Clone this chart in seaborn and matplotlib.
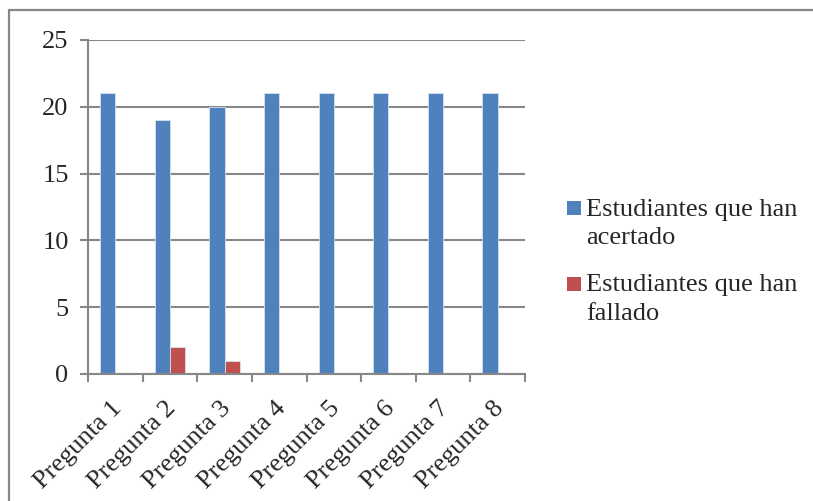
import matplotlib
matplotlib.use("Agg")
import matplotlib.pyplot as plt
from matplotlib.legend_handler import HandlerPatch
from matplotlib.patches import Rectangle
from matplotlib.lines import Line2D
from matplotlib.transforms import ScaledTranslation
import pandas as pd
import seaborn as sns

preguntas = ["Pregunta 1", "Pregunta 2", "Pregunta 3", "Pregunta 4",
             "Pregunta 5", "Pregunta 6", "Pregunta 7", "Pregunta 8"]
acertado = [21, 19, 20, 21, 21, 21, 21, 21]
fallado = [0, 2, 1, 0, 0, 0, 0, 0]
series = ["Estudiantes que han\nacertado", "Estudiantes que han\nfallado"]
colores = ["#4F81BD", "#C0504D"]
y_ticks = [0, 5, 10, 15, 20, 25]

df = pd.DataFrame({
    "pregunta": preguntas * 2,
    "valor": acertado + fallado,
    "serie": [series[0]] * len(preguntas) + [series[1]] * len(preguntas),
})

sns.set_theme(style="white")
plt.rcParams["font.family"] = ["Liberation Serif", "DejaVu Serif"]

GRAY = "#878787"
FS = 19

fig = plt.figure(figsize=(8.13, 5.01), dpi=100)
ax = fig.add_axes([88 / 813, 1 - 374 / 501, (525 - 88) / 813, (374 - 40) / 501])

sns.barplot(data=df, x="pregunta", y="valor", hue="serie", order=preguntas,
            hue_order=series, palette=colores, saturation=1, width=0.56, gap=0,
            edgecolor="#d8e2ef", linewidth=0.6, legend=False, ax=ax)

ax.set_ylim(0, 25)
ax.set_xlim(-0.5, len(preguntas) - 0.5)
ax.set_yticks(y_ticks)
ax.set_yticklabels([str(v) for v in y_ticks], fontsize=FS)
ax.set_xlabel("")
ax.set_ylabel("")
ax.yaxis.grid(True, color=GRAY, linewidth=1.5)
ax.set_axisbelow(True)
for s in ["top", "right"]:
    ax.spines[s].set_visible(False)
for s in ["left", "bottom"]:
    ax.spines[s].set_color(GRAY)
    ax.spines[s].set_linewidth(1.5)

ax.tick_params(axis="y", which="major", direction="out", length=6, width=1.5,
               color=GRAY, pad=8, left=True)
# category boundary ticks on the x axis
ax.set_xticks([i - 0.5 for i in range(len(preguntas) + 1)], minor=True)
ax.tick_params(axis="x", which="minor", direction="out", length=6, width=1.5,
               color=GRAY, bottom=True)
ax.set_xticks(range(len(preguntas)))
ax.set_xticklabels(preguntas, fontsize=FS, rotation=45, ha="right",
                   rotation_mode="anchor")
ax.tick_params(axis="x", which="major", length=0, pad=17)
shift = ScaledTranslation(-5 / 100, 0, fig.dpi_scale_trans)
for lab in ax.get_xticklabels():
    lab.set_transform(lab.get_transform() + shift)


def square_top(legend, orig_handle, xdescent, ydescent, width, height, fontsize):
    side = 0.55 * fontsize
    return Rectangle((-xdescent, -ydescent + height / 2 + 0.3 * fontsize), side, side)


handles = [Rectangle((0, 0), 1, 1, facecolor=c, edgecolor="none") for c in colores]
leg = fig.legend(handles, series, loc="upper left",
                 bbox_to_anchor=(556 / 813, 1 - 188 / 501), frameon=False,
                 fontsize=FS, handlelength=0.55, handleheight=0.55,
                 handletextpad=0.2, labelspacing=0.95, borderaxespad=0,
                 handler_map={Rectangle: HandlerPatch(patch_func=square_top)})
for t in leg.get_texts():
    t.set_linespacing(1.4)

# outer frame of the chart area
fig.add_artist(Line2D([9 / 813, 1.0], [1 - 10 / 501] * 2, color=GRAY, linewidth=1.6,
                      transform=fig.transFigure))
fig.add_artist(Line2D([9 / 813] * 2, [0, 1 - 10 / 501], color=GRAY, linewidth=1.6,
                      transform=fig.transFigure))

fig.savefig("out.png", dpi=100)
